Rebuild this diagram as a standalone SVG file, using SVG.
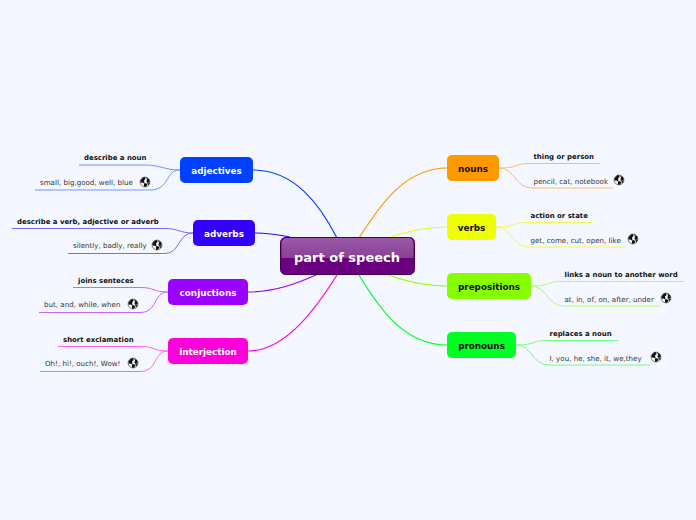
<svg xmlns="http://www.w3.org/2000/svg" xmlns:xlink="http://www.w3.org/1999/xlink" width="696" height="520" viewBox="0 0 696 520">
<style>
text{font-family:"DejaVu Sans",Verdana,sans-serif}
.n{font-size:8.8px;font-weight:bold;text-anchor:middle}
.w{fill:#fff}.k{fill:#111}
.b{font-size:6.95px;font-weight:bold;fill:#111}
.r{font-size:7.1px;fill:#333}
.m{fill:none;stroke-width:1.2}
.l{fill:none;stroke-width:1}
</style>
<defs>
<linearGradient id="top" x1="0" y1="0" x2="0" y2="1"><stop offset="0" stop-color="#9a5aa6"/><stop offset="1" stop-color="#8a4096"/></linearGradient>
<g id="globe"><circle r="4.9" fill="#fff" stroke="#222" stroke-width=".6"/><path d="M-4.6-1.5-2-4.4 0-4.9 .6-3-1-1.6-.4.4-1.6 1.2-2.6 .4-4.2.8ZM.8-4.8 4-2.8 4.8 0 2.8.8 1.6-.8 2-2.4ZM-.6 1 1.6 1.4 2.6 2.8 .6 4.8-.8 4.8-1.2 2.6Z" fill="#111"/><path d="M1 -1 4.8 1 3.6 3.4 2.4 1.6Z" fill="#333"/></g>
</defs>
<rect width="696" height="520" fill="#f4f7ff"/>
<g id="connectors">
<path class="m" stroke="#0040ff" d="M253 170C295 170 320 205 337 238"/>
<path class="m" stroke="#3300ff" d="M255 233C270 233 280 235 290 237"/>
<path class="m" stroke="#9900ff" d="M248 292C275 292 298 283 316 275"/>
<path class="m" stroke="#ff00dd" d="M248 351C285 351 315 310 337 275"/>
<path class="m" stroke="#ff9900" d="M447 168C405 168 380 205 359 238"/>
<path class="m" stroke="#eeff00" d="M447 227C425 227 410 231 391 237"/>
<path class="m" stroke="#88ff00" d="M447 286C425 286 405 281 388 275"/>
<path class="m" stroke="#00ff22" d="M447 345C405 345 380 310 359 275"/>
<g stroke="#6f94ff"><path class="l" d="M79 165H145C160 165 165 170 180 170"/><path class="l" d="M35 190H150C170 190 165 170 180 170"/></g>
<g stroke="#8066ff"><path class="l" d="M12 228.500H165C178 228.500 180 233 193 233"/><path class="l" d="M68 253.500H165C180 253.500 178 233 193 233"/></g>
<g stroke="#c266ff"><path class="l" d="M73 287.500H140C155 287.500 153 292 168 292"/><path class="l" d="M39 312.500H140C158 312.500 153 292 168 292"/></g>
<g stroke="#ff66ea"><path class="l" d="M58 346.500H140C155 346.500 153 351 168 351"/><path class="l" d="M40 371.500H140C158 371.500 153 351 168 351"/></g>
<g stroke="#ffbb66"><path class="l" d="M499 168C520 168 515 163 530 163.500H600"/><path class="l" d="M499 168C515 168 515 188 532 188H613"/></g>
<g stroke="#f3f855"><path class="l" d="M496 227C517 227 512 222 527 222.500H593"/><path class="l" d="M496 227C512 227 512 247 529 247H626"/></g>
<g stroke="#b0ff5e"><path class="l" d="M531 286C552 286 547 281 562 281.500H684"/><path class="l" d="M531 286C547 286 547 306 564 306H660"/></g>
<g stroke="#70ff80"><path class="l" d="M516 345C537 345 532 340 547 340.500H618"/><path class="l" d="M516 345C532 345 532 365 549 365H650"/></g>
</g>
<g id="center">
<rect x="280.500" y="237.500" width="134" height="37" rx="5" fill="#6a0080" stroke="#3f0050"/>
<path d="M281.500 258V243a5 5 0 0 1 5-5H408.500a5 5 0 0 1 5 5V258Z" fill="url(#top)"/>
<text x="347" y="262" text-anchor="middle" font-size="13" font-weight="bold" fill="#fff">part of speech</text>
</g>
<g id="adjectives"><rect x="180" y="157" width="73" height="26" rx="5" fill="#0040ff"/><text class="n w" x="216.500" y="174">adjectives</text>
<text class="b" x="84" y="160">describe a noun</text><text class="r" x="40" y="185">small, big,good, well, blue</text><use xlink:href="#globe" href="#globe" x="145" y="182"/></g>
<g id="adverbs"><rect x="193" y="220" width="62" height="26" rx="5" fill="#3300ff"/><text class="n w" x="224" y="237">adverbs</text>
<text class="b" x="17" y="224">describe a verb, adjective or adverb</text><text class="r" x="73" y="248">silently, badly, really</text><use xlink:href="#globe" href="#globe" x="157" y="245"/></g>
<g id="conjuctions"><rect x="168" y="279" width="80" height="26" rx="5" fill="#9900ff"/><text class="n w" x="208" y="296">conjuctions</text>
<text class="b" x="78" y="283">joins senteces</text><text class="r" x="44" y="307">but, and, while, when</text><use xlink:href="#globe" href="#globe" x="133" y="304"/></g>
<g id="interjection"><rect x="168" y="338" width="80" height="26" rx="5" fill="#ff00dd"/><text class="n w" x="208" y="355">interjection</text>
<text class="b" x="63" y="342">short exclamation</text><text class="r" x="45" y="366">Oh!, hi!, ouch!, Wow!</text><use xlink:href="#globe" href="#globe" x="133" y="363"/></g>
<g id="nouns"><rect x="447" y="155" width="52" height="26" rx="5" fill="#ff9900"/><text class="n k" x="473" y="172">nouns</text>
<text class="b" x="533.500" y="158.500">thing or person</text><text class="r" x="533.500" y="183.500">pencil, cat, notebook</text><use xlink:href="#globe" href="#globe" x="619" y="180"/></g>
<g id="verbs"><rect x="447" y="214" width="49" height="26" rx="5" fill="#eeff00"/><text class="n k" x="471.500" y="231">verbs</text>
<text class="b" x="530.500" y="217.500">action or state</text><text class="r" x="530.500" y="242.500">get, come, cut, open, like</text><use xlink:href="#globe" href="#globe" x="633" y="239"/></g>
<g id="prepositions"><rect x="447" y="273" width="84" height="26" rx="5" fill="#88ff00"/><text class="n k" x="489" y="290">prepositions</text>
<text class="b" x="564.500" y="276.500">links a noun to another word</text><text class="r" x="564.500" y="301.500">at, in, of, on, after, under</text><use xlink:href="#globe" href="#globe" x="666" y="298"/></g>
<g id="pronouns"><rect x="447" y="332" width="69" height="26" rx="5" fill="#00ff22"/><text class="n k" x="481.500" y="349">pronouns</text>
<text class="b" x="549.500" y="335.500">replaces a noun</text><text class="r" x="549.500" y="360.500">I, you, he, she, it, we,they</text><use xlink:href="#globe" href="#globe" x="656" y="357"/></g>
</svg>
